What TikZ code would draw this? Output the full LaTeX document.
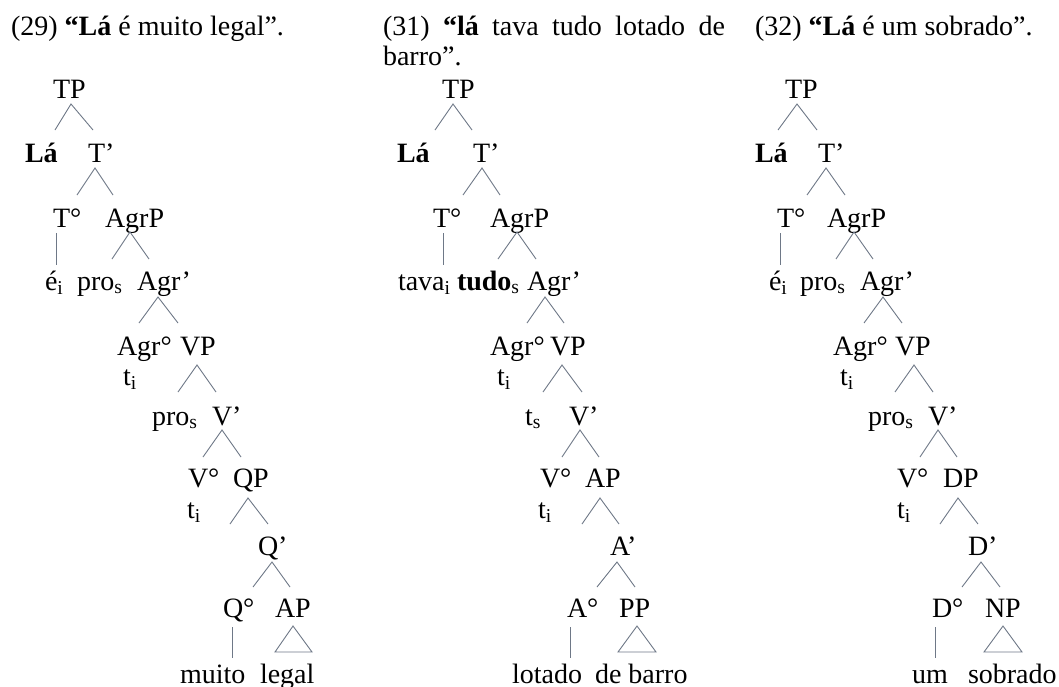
\documentclass[tikz,border=0pt]{standalone}
\usepackage{fontspec}
\setmainfont{Liberation Serif}
\definecolor{linecol}{RGB}{110,120,135}
\tikzset{
  lbl/.style={anchor=base west, inner sep=0pt, outer sep=0pt, font=\fontsize{28}{32}\selectfont},
  br/.style={draw=linecol, line width=0.9pt, line join=miter},
}
\newcommand{\mybranch}[6]{%
  \coordinate (#1-top) at (#2,#3);
  \coordinate (#1-l) at (#4,#6);
  \coordinate (#1-r) at (#5,#6);
  \draw[br] (#1-l) -- (#1-top) -- (#1-r);}
\newcommand{\myvbar}[4]{%
  \coordinate (#1-a) at (#2,#3);
  \coordinate (#1-b) at (#2,#4);
  \draw[br] (#1-a) -- (#1-b);}
\newcommand{\mytri}[5]{%
  \coordinate (#1-top) at (#2,#3);
  \coordinate (#1-l) at (#4,652);
  \coordinate (#1-r) at (#5,652);
  \draw[br] (#1-top) -- (#1-l) -- (#1-r) -- cycle;}
\begin{document}
\begin{tikzpicture}[x=1pt,y=-1pt]
\useasboundingbox (0,0) rectangle (1059,686);
% titles
\node[lbl] (t29) at (11,35) {(29) \textbf{“Lá} é muito legal”.};
\node[lbl] (t31) at (383,35) {\makebox[342pt][s]{(31) \textbf{“lá} tava tudo lotado de}};
\node[lbl] (t31b) at (383,65) {barro”.};
\node[lbl] (t32) at (755,35) {(32) \textbf{“Lá} é um sobrado”.};
% ---------- tree 1 ----------
\node[lbl] (a-tp) at (53,98) {TP};
\node[lbl] (a-la) at (25,162) {\textbf{Lá}};
\node[lbl] (a-tb) at (88,162) {T’};
\node[lbl] (a-t0) at (53,227) {T°};
\node[lbl] (a-agrp) at (105,227) {AgrP};
\node[lbl] (a-e) at (45,290) {é\textsubscript{i}};
\node[lbl] (a-pro) at (77,290) {pro\textsubscript{s}};
\node[lbl] (a-agrb) at (137,290) {Agr’};
\node[lbl] (a-agr0) at (117,355) {Agr°};
\node[lbl] (a-vp) at (180,355) {VP};
\node[lbl] (a-ti) at (123,385) {t\textsubscript{i}};
\node[lbl] (a-pro2) at (152,425) {pro\textsubscript{s}};
\node[lbl] (a-vb) at (212,425) {V’};
\node[lbl] (a-v0) at (188,487) {V°};
\node[lbl] (a-qp) at (233,487) {QP};
\node[lbl] (a-ti2) at (187,518) {t\textsubscript{i}};
\node[lbl] (a-qb) at (258,555) {Q’};
\node[lbl] (a-q0) at (223,617) {Q°};
\node[lbl] (a-ap) at (275,617) {AP};
\node[lbl] (a-muito) at (180,683) {muito};
\node[lbl] (a-legal) at (260,683) {legal};
\mybranch{a1}{71}{104}{55}{93}{130}
\mybranch{a2}{95}{168}{77}{113}{195}
\mybranch{a3}{130}{232}{112}{149}{259}
\mybranch{a4}{158}{297}{139}{178}{323}
\mybranch{a5}{197}{365}{178}{216}{392}
\mybranch{a6}{222}{430}{203}{241}{457}
\mybranch{a7}{248}{498}{230}{268}{524}
\mybranch{a8}{272}{562}{253}{290}{587}
\myvbar{av1}{56}{233}{265}
\myvbar{av2}{232}{627}{658}
\mytri{atr}{293}{626}{275}{312}
% ---------- tree 2 ----------
\node[lbl] (b-tp) at (442,98) {TP};
\node[lbl] (b-la) at (397,162) {\textbf{Lá}};
\node[lbl] (b-tb) at (473,162) {T’};
\node[lbl] (b-t0) at (433,227) {T°};
\node[lbl] (b-agrp) at (490,227) {AgrP};
\node[lbl] (b-tava) at (398,290) {tava\textsubscript{i}};
\node[lbl] (b-tudo) at (457,290) {\textbf{tudo}\textsubscript{s}};
\node[lbl] (b-agrb) at (527,290) {Agr’};
\node[lbl] (b-agr0) at (490,355) {Agr°};
\node[lbl] (b-vp) at (550,355) {VP};
\node[lbl] (b-ti) at (497,385) {t\textsubscript{i}};
\node[lbl] (b-ts) at (525,425) {t\textsubscript{s}};
\node[lbl] (b-vb) at (569,425) {V’};
\node[lbl] (b-v0) at (540,487) {V°};
\node[lbl] (b-ap) at (585,487) {AP};
\node[lbl] (b-ti2) at (538,518) {t\textsubscript{i}};
\node[lbl] (b-ab) at (610,555) {A’};
\node[lbl] (b-a0) at (567,617) {A°};
\node[lbl] (b-pp) at (619,617) {PP};
\node[lbl] (b-lotado) at (512,683) {lotado};
\node[lbl] (b-barro) at (595,683) {de barro};
\mybranch{b1}{453}{104}{435}{472}{130}
\mybranch{b2}{482}{168}{463}{500}{195}
\mybranch{b3}{517}{232}{498}{536}{259}
\mybranch{b4}{545}{297}{527}{564}{323}
\mybranch{b5}{562}{365}{543}{582}{392}
\mybranch{b6}{580}{430}{562}{599}{457}
\mybranch{b7}{600}{498}{582}{619}{524}
\mybranch{b8}{617}{562}{597}{635}{587}
\myvbar{bv1}{443}{233}{265}
\myvbar{bv2}{570}{627}{658}
\mytri{btr}{637}{626}{618}{656}
% ---------- tree 3 ----------
\node[lbl] (c-tp) at (785,98) {TP};
\node[lbl] (c-la) at (755,162) {\textbf{Lá}};
\node[lbl] (c-tb) at (818,162) {T’};
\node[lbl] (c-t0) at (777,227) {T°};
\node[lbl] (c-agrp) at (827,227) {AgrP};
\node[lbl] (c-e) at (769,290) {é\textsubscript{i}};
\node[lbl] (c-pro) at (800,290) {pro\textsubscript{s}};
\node[lbl] (c-agrb) at (860,290) {Agr’};
\node[lbl] (c-agr0) at (833,355) {Agr°};
\node[lbl] (c-vp) at (895,355) {VP};
\node[lbl] (c-ti) at (840,385) {t\textsubscript{i}};
\node[lbl] (c-pro2) at (868,425) {pro\textsubscript{s}};
\node[lbl] (c-vb) at (928,425) {V’};
\node[lbl] (c-v0) at (897,487) {V°};
\node[lbl] (c-dp) at (943,487) {DP};
\node[lbl] (c-ti2) at (897,518) {t\textsubscript{i}};
\node[lbl] (c-db) at (968,555) {D’};
\node[lbl] (c-d0) at (932,617) {D°};
\node[lbl] (c-np) at (985,617) {NP};
\node[lbl] (c-um) at (912,683) {um};
\node[lbl] (c-sobrado) at (968,683) {sobrado};
\mybranch{c1}{797}{104}{778}{817}{130}
\mybranch{c2}{826}{168}{807}{845}{195}
\mybranch{c3}{854}{232}{836}{873}{259}
\mybranch{c4}{883}{297}{864}{902}{323}
\mybranch{c5}{914}{365}{895}{933}{392}
\mybranch{c6}{938}{430}{920}{957}{457}
\mybranch{c7}{958}{498}{940}{978}{524}
\mybranch{c8}{981}{562}{962}{1000}{587}
\myvbar{cv1}{780}{233}{265}
\myvbar{cv2}{935}{627}{658}
\mytri{ctr}{1003}{626}{984}{1022}
\end{tikzpicture}
\end{document}
